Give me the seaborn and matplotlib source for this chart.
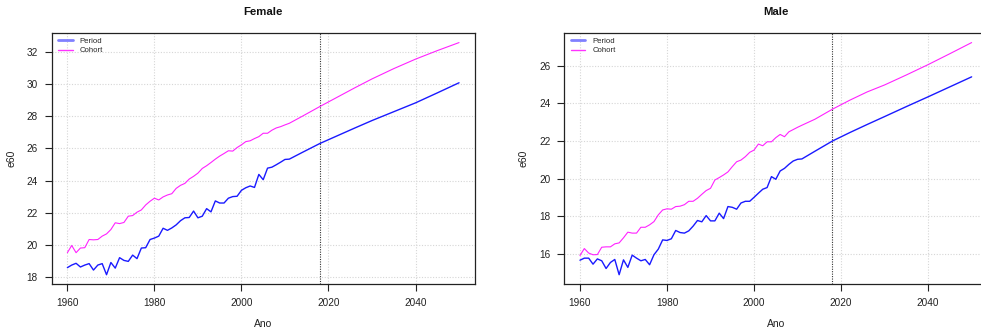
import matplotlib
matplotlib.use("Agg")
import matplotlib.pyplot as plt
import pandas as pd
import seaborn as sns

# Years: annual observations through 2011, then projection checkpoints
years = list(range(1960, 2012)) + [2014, 2018, 2022, 2026, 2030, 2035, 2040, 2045, 2050]

female_period = [
    18.58, 18.74, 18.85, 18.62, 18.74, 18.83, 18.43, 18.74, 18.83, 18.14,
    18.90, 18.55, 19.20, 19.03, 18.97, 19.36, 19.14, 19.80, 19.82, 20.33,
    20.42, 20.54, 21.03, 20.90, 21.05, 21.24, 21.50, 21.68, 21.70, 22.10,
    21.68, 21.78, 22.25, 22.05, 22.73, 22.60, 22.60, 22.90, 23.00, 23.02,
    23.39, 23.55, 23.66, 23.57, 24.38, 24.05, 24.77, 24.83, 24.98, 25.14,
    25.31, 25.33,
    25.75, 26.30, 26.78, 27.26, 27.73, 28.28, 28.83, 29.45, 30.08,
]
female_cohort = [
    19.51, 19.96, 19.51, 19.80, 19.82, 20.33, 20.31, 20.33, 20.54, 20.68,
    20.95, 21.37, 21.32, 21.39, 21.78, 21.82, 22.03, 22.17, 22.48, 22.71,
    22.90, 22.79, 22.98, 23.10, 23.18, 23.51, 23.70, 23.82, 24.09, 24.26,
    24.46, 24.75, 24.92, 25.12, 25.33, 25.52, 25.68, 25.85, 25.83, 26.05,
    26.22, 26.42, 26.47, 26.61, 26.73, 26.94, 26.94, 27.13, 27.27, 27.35,
    27.46, 27.56,
    28.00, 28.60, 29.18, 29.76, 30.32, 30.96, 31.55, 32.08, 32.58,
]
male_period = [
    15.66, 15.77, 15.77, 15.45, 15.73, 15.63, 15.22, 15.54, 15.70, 14.89,
    15.68, 15.28, 15.93, 15.77, 15.63, 15.70, 15.42, 15.95, 16.25, 16.74,
    16.71, 16.80, 17.24, 17.13, 17.10, 17.22, 17.47, 17.77, 17.70, 18.03,
    17.75, 17.75, 18.16, 17.87, 18.51, 18.47, 18.37, 18.70, 18.79, 18.79,
    19.00, 19.22, 19.43, 19.52, 20.10, 19.96, 20.40, 20.54, 20.75, 20.93,
    21.02, 21.04,
    21.45, 21.99, 22.44, 22.87, 23.29, 23.82, 24.34, 24.87, 25.40,
]
male_cohort = [
    15.91, 16.28, 16.04, 15.95, 15.96, 16.35, 16.37, 16.37, 16.53, 16.58,
    16.85, 17.15, 17.10, 17.10, 17.41, 17.41, 17.54, 17.71, 18.07, 18.33,
    18.39, 18.37, 18.51, 18.53, 18.61, 18.79, 18.79, 18.95, 19.16, 19.36,
    19.48, 19.92, 20.05, 20.19, 20.35, 20.63, 20.89, 20.98, 21.16, 21.39,
    21.51, 21.83, 21.74, 21.95, 21.95, 22.17, 22.34, 22.22, 22.48, 22.60,
    22.72, 22.83,
    23.15, 23.68, 24.16, 24.60, 24.97, 25.50, 26.05, 26.63, 27.22,
]

x_ticks = [1960, 1980, 2000, 2020, 2040]
female_yticks = [18, 20, 22, 24, 26, 28, 30, 32]
male_yticks = [16, 18, 20, 22, 24, 26]
cutoff_year = 2018

sns.set_style("ticks")
plt.rcParams["font.family"] = ["Liberation Sans", "DejaVu Sans"]

W, H = 981, 332
fig = plt.figure(figsize=(W / 100, H / 100), dpi=100)
ax_w, ax_h, ax_b = 423, 250.7, 48
ax_f = fig.add_axes([51.7 / W, ax_b / H, ax_w / W, ax_h / H])
ax_m = fig.add_axes([564.3 / W, ax_b / H, ax_w / W, ax_h / H])


def r_range(vals):
    lo, hi = min(vals), max(vals)
    pad = (hi - lo) * 0.04
    return lo - pad, hi + pad


def panel(ax, title, period, cohort, yticks, ylab_x):
    dp = pd.DataFrame({"Ano": years, "e60": period})
    dc = pd.DataFrame({"Ano": years, "e60": cohort})
    sns.lineplot(data=dp, x="Ano", y="e60", ax=ax, color="#1a1aff",
                 linewidth=1.0, label="Period", zorder=3)
    sns.lineplot(data=dc, x="Ano", y="e60", ax=ax, color="#ff22ff",
                 linewidth=0.8, label="Cohort", zorder=3)
    ax.axvline(cutoff_year, color="#333333", linestyle=(0, (1, 1.2)),
               linewidth=0.8, zorder=2)

    ax.set_xlim(*r_range(years))
    ax.set_ylim(*r_range(period + cohort))
    ax.set_xticks(x_ticks)
    ax.set_yticks(yticks)
    ax.grid(True, color="#d6d6d6", linestyle=(0, (1, 1.5)), linewidth=0.8)
    ax.set_axisbelow(True)
    for s in ax.spines.values():
        s.set_visible(True)
        s.set_color("#222222")
        s.set_linewidth(0.9)
    ax.tick_params(direction="out", length=5, width=0.8, colors="#222222",
                   labelsize=7.2, pad=5)

    ax.set_title(title, fontweight="bold", fontsize=8.2, pad=13, color="#111111")
    ax.set_xlabel("Ano", fontsize=7.5, color="#222222")
    ax.set_ylabel("e60", fontsize=7.5, color="#222222")
    ax.xaxis.set_label_coords(0.5, -0.14)
    ax.yaxis.set_label_coords(ylab_x, 0.5)

    leg = ax.legend(loc="upper left", bbox_to_anchor=(0.015, 0.985),
                    frameon=False, fontsize=5.6, handlelength=1.9,
                    handletextpad=0.9, labelspacing=0.3, borderpad=0,
                    borderaxespad=0)
    lines = leg.get_lines()
    lines[0].set_linewidth(2.0)
    lines[0].set_color("#8080ff")
    lines[1].set_linewidth(1.0)
    lines[1].set_color("#ff33ff")


panel(ax_f, "Female", female_period, female_cohort, female_yticks, -0.083)
panel(ax_m, "Male", male_period, male_cohort, male_yticks, -0.084)

fig.savefig("out.png", dpi=100)
